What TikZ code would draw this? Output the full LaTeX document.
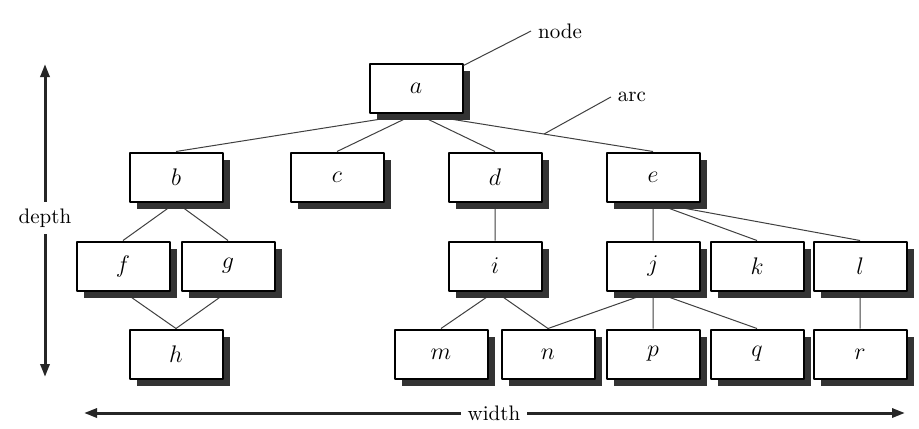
\documentclass[tikz,border=0pt]{standalone}
\usetikzlibrary{shadows,arrows.meta,backgrounds}
\begin{document}
\begin{tikzpicture}[x=0.5pt,y=-0.5pt,line join=round,>={Triangle[length=6.5pt,width=4.5pt]},font=\fontsize{10.5}{12}\selectfont,
	box/.style={draw,line width=1pt,fill=white,minimum width=46.5pt,minimum height=24.5pt,inner sep=0pt,font=\large,
		drop shadow={shadow xshift=3.5pt,shadow yshift=-3.5pt,fill=black!80,opacity=1}},
	arcline/.style={black!75,line width=0.5pt},
	bigarrow/.style={->,line width=1.5pt,black!85}]
	\useasboundingbox (0,0) rectangle (919,428);
	\node[box] (a) at (416,88) {$a$};
	\node[box] (b) at (176,177) {$b$}; \node[box] (c) at (337,177) {$c$};
	\node[box] (d) at (495,177) {$d$}; \node[box] (e) at (653,177) {$e$};
	\node[box] (f) at (123,266) {$f$}; \node[box] (g) at (228,266) {$g$};
	\node[box] (i) at (495,266) {$i$}; \node[box] (j) at (653,266) {$j$};
	\node[box] (k) at (757,266) {$k$}; \node[box] (l) at (860,266) {$l$};
	\node[box] (h) at (176,354) {$h$}; \node[box] (m) at (441,354) {$m$};
	\node[box] (n) at (548,354) {$n$}; \node[box] (p) at (653,354) {$p$};
	\node[box] (q) at (757,354) {$q$}; \node[box] (r) at (860,354) {$r$};
	\begin{pgfonlayer}{background}
		\fill[white] (0,0) rectangle (919,428);
		\draw[arcline] (a.south)--(b.north) (a.south)--(c.north) (a.south)--(d.north) (a.south)--(e.north)
			(b.south)--(f.north) (b.south)--(g.north) (f.south)--(h.north) (g.south)--(h.north)
			(d.south)--(i.north) (e.south)--(j.north) (e.south)--(k.north) (e.south)--(l.north)
			(i.south)--(m.north) (i.south)--(n.north) (j.south)--(n.north) (j.south)--(p.north)
			(j.south)--(q.north) (l.south)--(r.north);
	\end{pgfonlayer}
	\path (a.south)--(e.north) coordinate[pos=0.54] (arcpt);
	\node (nodelbl) at (560,31) {node};
	\node (arclbl) at (632,97) {arc};
	\draw[arcline] (nodelbl.west)--([yshift=-1.5pt]a.north east);
	\draw[arcline] (arclbl.west)--(arcpt);
	\node (depth) at (45,218) {depth};
	\coordinate (depthtop) at (45,64); \coordinate (depthbot) at (45,377);
	\draw[bigarrow] (depth.north)--(depthtop); \draw[bigarrow] (depth.south)--(depthbot);
	\node (width) at (494,413) {width};
	\coordinate (widthleft) at (84,413); \coordinate (widthright) at (905,413);
	\draw[bigarrow] (width.west)--(widthleft); \draw[bigarrow] (width.east)--(widthright);
\end{tikzpicture}
\end{document}
